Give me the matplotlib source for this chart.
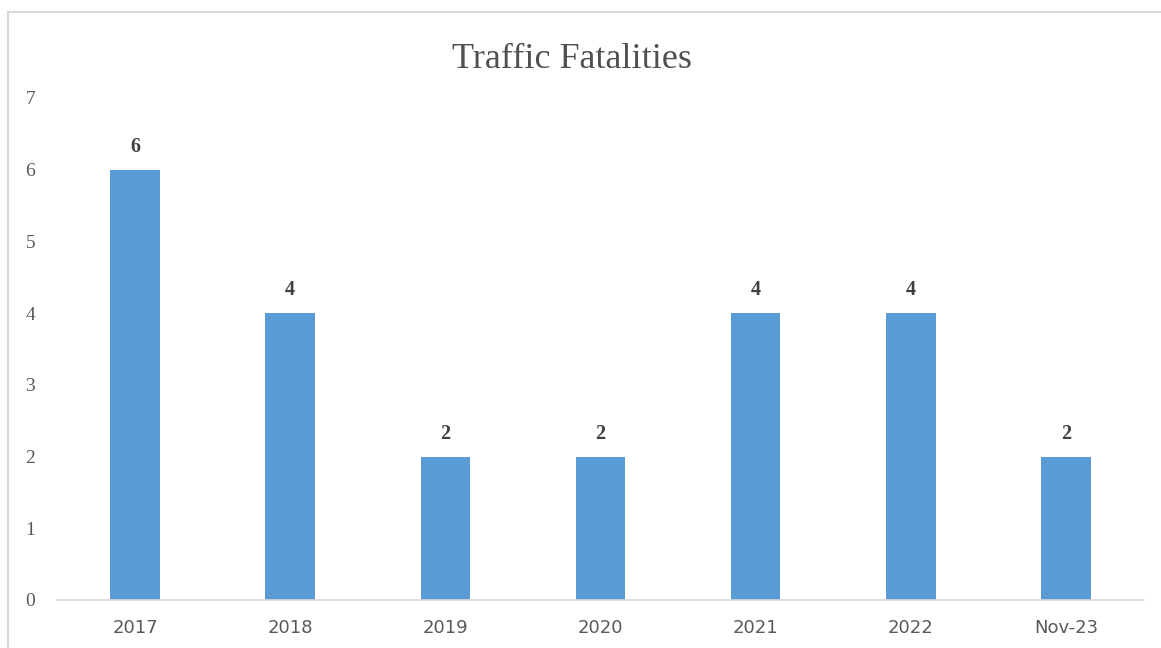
import matplotlib
matplotlib.use("Agg")
import matplotlib.pyplot as plt
from matplotlib.lines import Line2D

categories = ["2017", "2018", "2019", "2020", "2021", "2022", "Nov-23"]
values = [6, 4, 2, 2, 4, 4, 2]
yticks = [0, 1, 2, 3, 4, 5, 6, 7]
title = "Traffic Fatalities"

W, H = 1161, 648
fig = plt.figure(figsize=(W / 100, H / 100), dpi=100)
fig.patch.set_facecolor("white")

# outer chart border (top and left visible)
fig.add_artist(Line2D([8 / W, 8 / W], [0, 1 - 11.5 / H], transform=fig.transFigure,
                      color="#d9d9d9", lw=1.5))
fig.add_artist(Line2D([8 / W, 1], [1 - 11.5 / H, 1 - 11.5 / H], transform=fig.transFigure,
                      color="#d9d9d9", lw=1.5))

ax = fig.add_axes([57.4 / W, (H - 600) / H, (1143.6 - 57.4) / W, (600 - 98) / H])
x = list(range(len(categories)))
bars = ax.bar(x, values, width=0.32, color="#5b9bd5", zorder=2)
ax.set_xlim(-0.5, len(categories) - 0.5)
ax.set_ylim(0, 7)

for xi, v in zip(x, values):
    ax.text(xi, v + 0.18, str(v), ha="center", va="bottom", fontsize=14.5,
            fontweight="bold", family="Liberation Serif", color="#404040")

ax.set_yticks(yticks)
ax.set_yticklabels([str(t) for t in yticks], family="Liberation Serif", fontsize=14,
                   color="#595959")
ax.set_xticks(x)
ax.set_xticklabels(categories, family="DejaVu Sans", fontsize=13, color="#595959")
ax.tick_params(axis="y", length=0, pad=16)
ax.tick_params(axis="x", length=0, pad=14)

for s in ["top", "right", "left"]:
    ax.spines[s].set_visible(False)
ax.spines["bottom"].set_color("#d9d9d9")
ax.spines["bottom"].set_linewidth(1.2)

fig.text(572 / W, 1 - 59 / H, title, ha="center", va="center", fontsize=26,
         family="Liberation Serif", color="#505050")

fig.savefig("out.png", dpi=100)
